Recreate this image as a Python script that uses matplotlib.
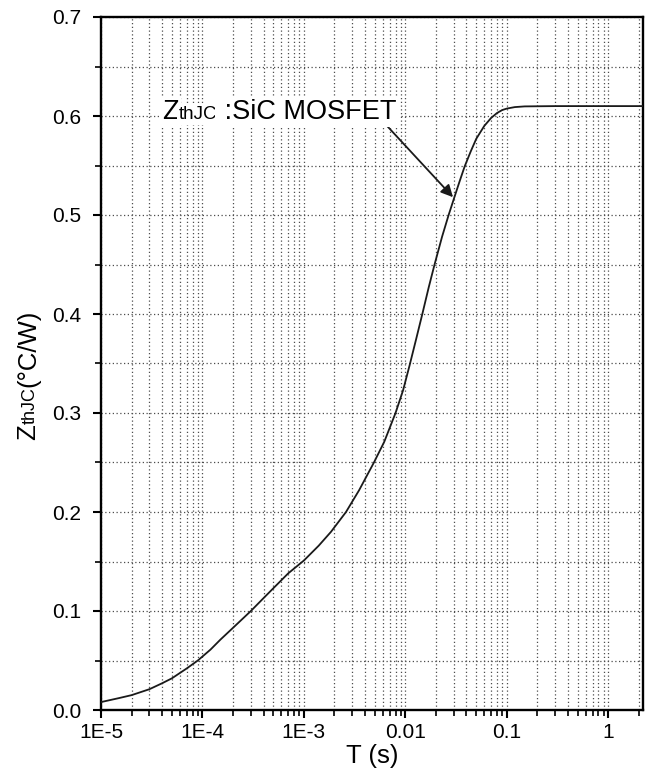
import matplotlib
matplotlib.use("Agg")
import matplotlib.pyplot as plt
from matplotlib.ticker import FixedLocator, FixedFormatter, LogLocator, MultipleLocator, FormatStrFormatter, NullFormatter

plt.rcParams['font.family'] = ['Liberation Sans', 'DejaVu Sans']

t_s = [1e-5, 1.5e-5, 2e-5, 3e-5, 4e-5, 5e-5, 7e-5, 9e-5, 1.2e-4, 1.5e-4, 2e-4,
       3e-4, 4e-4, 5e-4, 7e-4, 1e-3, 1.4e-3, 1.85e-3, 2.6e-3, 3.5e-3, 4.9e-3,
       6.2e-3, 8e-3, 9.5e-3, 1.1e-2, 1.28e-2, 1.47e-2, 1.7e-2, 1.94e-2, 2.3e-2,
       2.67e-2, 3.0e-2, 3.4e-2, 3.84e-2, 4.4e-2, 5e-2, 6e-2, 7e-2, 8e-2, 9e-2,
       0.1, 0.12, 0.15, 0.3, 1.0, 2.2]
zth = [0.008, 0.012, 0.015, 0.021, 0.027, 0.032, 0.042, 0.050, 0.061, 0.071, 0.083,
       0.100, 0.113, 0.123, 0.138, 0.151, 0.166, 0.180, 0.200, 0.222, 0.250,
       0.271, 0.300, 0.323, 0.348, 0.375, 0.400, 0.427, 0.450, 0.478,
       0.500, 0.516, 0.533, 0.549, 0.564, 0.577, 0.590, 0.598, 0.603, 0.606,
       0.6075, 0.609, 0.6097, 0.610, 0.610, 0.610]

x_ticks = [1e-5, 1e-4, 1e-3, 1e-2, 1e-1, 1]
x_labels = ['1E-5', '1E-4', '1E-3', '0.01', '0.1', '1']
y_ticks = [0.0, 0.1, 0.2, 0.3, 0.4, 0.5, 0.6, 0.7]

W, H = 649, 778


#------------------------------------------------------------------------------
def texto(fig, x, y, partes, vertical=False, **kw):
    # coloca trozos de texto seguidos (en pixeles de la figura)
    r = fig.canvas.get_renderer()
    pos = 0.0
    for s, size in partes:
        if vertical:
            t = fig.text(x / W, (y + pos) / H, s, fontsize=size, rotation=90,
                         rotation_mode='anchor', ha='left', va='baseline', **kw)
            pos += t.get_window_extent(r).height
        else:
            t = fig.text((x + pos) / W, y / H, s, fontsize=size,
                         ha='left', va='baseline', **kw)
            pos += t.get_window_extent(r).width
#------------------------------------------------------------------------------


fig = plt.figure(figsize=(W / 100, H / 100), dpi=100)
ax = fig.add_axes([101 / W, 68 / H, 542 / W, 693 / H])

ax.plot(t_s, zth, color='#1a1a1a', lw=1.3, zorder=3)
ax.set_xscale('log')
ax.set_xlim(1e-5, 2.2)
ax.set_ylim(0, 0.7)

ax.xaxis.set_major_locator(FixedLocator(x_ticks))
ax.xaxis.set_major_formatter(FixedFormatter(x_labels))
ax.xaxis.set_minor_locator(LogLocator(base=10, subs=range(2, 10), numticks=20))
ax.xaxis.set_minor_formatter(NullFormatter())
ax.yaxis.set_major_locator(FixedLocator(y_ticks))
ax.yaxis.set_major_formatter(FormatStrFormatter('%.1f'))
ax.yaxis.set_minor_locator(MultipleLocator(0.05))

ax.grid(True, which='both', ls=(0, (1, 2)), lw=0.9, color='0.3', zorder=0)
ax.tick_params(which='major', direction='out', length=6, width=1.5, labelsize=15,
               top=False, right=False)
ax.tick_params(which='minor', direction='out', length=4, width=1.2,
               top=False, right=False)
ax.tick_params(axis='y', which='major', pad=8)
for s in ax.spines.values():
    s.set_linewidth(1.7)

ax.set_xlabel('T (s)', fontsize=18.5, labelpad=1)

# flecha de la anotacion
ax.annotate('', xy=(0.0295, 0.518), xytext=(0.00646, 0.591),
            arrowprops=dict(arrowstyle='-|>', color='#1a1a1a', lw=1.3,
                            mutation_scale=18, shrinkA=0, shrinkB=0), zorder=4)

caja = dict(facecolor='white', edgecolor='none', pad=1.5)
texto(fig, 162, H - 119, [('Z', 19.5), ('thJC', 13.5), (' :SiC MOSFET', 19.5)],
      bbox=caja)
texto(fig, 35, H - 440, [('Z', 18.5), ('thJC', 13), ('(°C/W)', 18.5)], vertical=True)

fig.savefig('out.png', dpi=100)
